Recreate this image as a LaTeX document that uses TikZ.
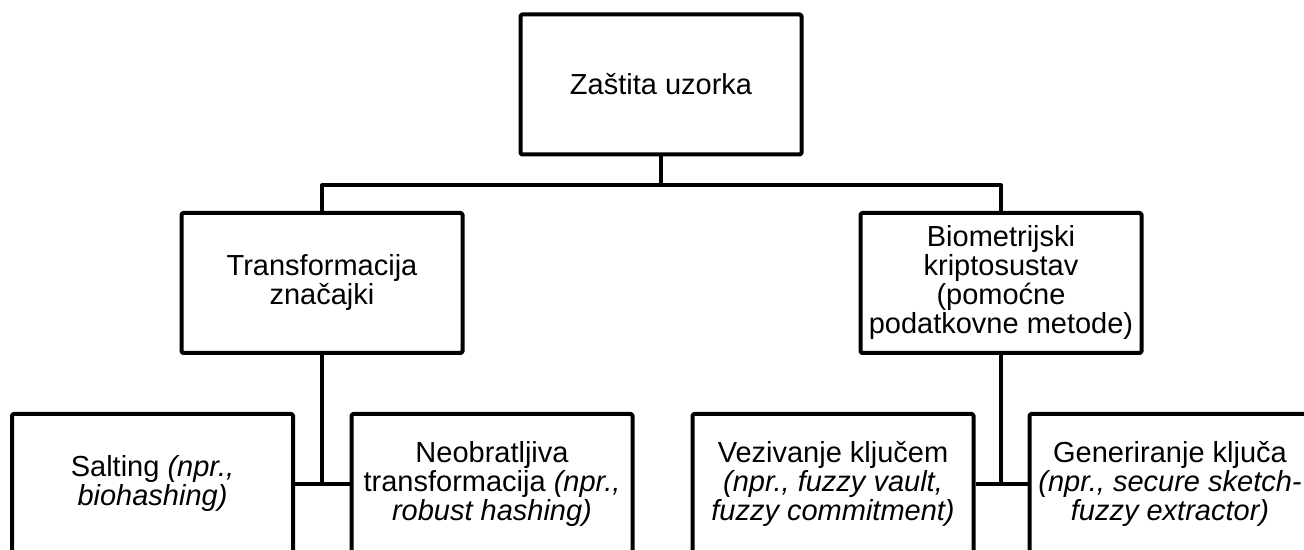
\documentclass[tikz,border=0pt]{standalone}
\usepackage{fontspec}
\setmainfont{Liberation Sans}
\begin{document}
\begin{tikzpicture}[x=1pt,y=1pt,line width=4pt,line join=round,
    okvir/.style={draw,rounded corners=1.5pt,minimum width=281pt,minimum height=140pt,
        align=center,inner sep=0pt,font=\fontsize{29}{29}\selectfont}]
    \path[use as bounding box,clip] (0,0) rectangle (1304,549);

    \node[okvir] (zastita) at (661,464.5) {Zaštita uzorka};

    \node[okvir] (transf) at (322,266) {Transformacija\\značajki};
    \node[okvir] (biokripto) at (1001,266) {Biometrijski\\kriptosustav\\(pomoćne\\podatkovne metode)};

    \node[okvir] (salting) at (152.5,65) {Salting \textit{(npr.,}\\\textit{biohashing)}};
    \node[okvir] (neobrat) at (492,65) {Neobratljiva\\transformacija \textit{(npr.,}\\\textit{robust hashing)}};
    \node[okvir] (vezivanje) at (833,65) {Vezivanje ključem\\\textit{(npr., fuzzy vault,}\\\textit{fuzzy commitment)}};
    \node[okvir] (generiranje) at (1170,65) {Generiranje ključa\\\textit{(npr., secure sketch-}\\\textit{fuzzy extractor)}};

    \draw (zastita.south) -- ++(0,-29) coordinate (grana);
    \draw (transf.north) |- (grana) -| (biokripto.north);

    \draw (transf.south) -- (transf.south |- salting.east);
    \draw (salting.east) -- (neobrat.west);
    \draw (biokripto.south) -- (biokripto.south |- vezivanje.east);
    \draw (vezivanje.east) -- (generiranje.west);
\end{tikzpicture}
\end{document}
